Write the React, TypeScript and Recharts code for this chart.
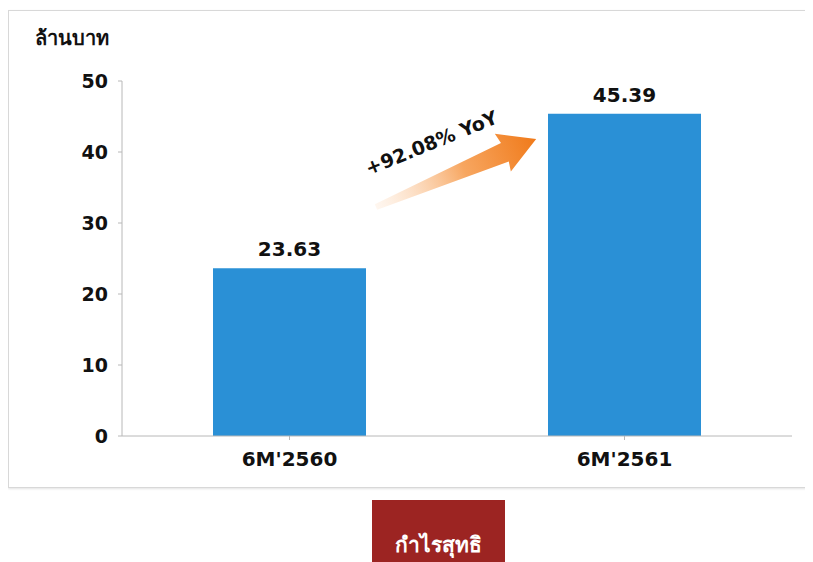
import { BarChart, Bar, XAxis, YAxis, LabelList } from 'recharts';

const periods = ["6M'2560", "6M'2561"];
const netProfit = [23.63, 45.39];
const yTicks = [0, 10, 20, 30, 40, 50];

const data = periods.map((period, i) => ({ period, profit: netProfit[i] }));

const FONT = '"DejaVu Sans", Verdana, sans-serif';

export default function App() {
  return (
    <div style={{ position: 'relative', width: 813, height: 562, margin: '-8px -8px 0 -8px', overflow: 'hidden', background: '#fff', fontFamily: FONT }}>
      <div
        style={{
          position: 'absolute',
          left: 8,
          top: 10,
          width: 820,
          height: 476,
          border: '1px solid #d8d8d8',
          boxShadow: '0 1px 2px #e4e4e4',
        }}
      />
      <div style={{ position: 'absolute', left: 35, top: 22, fontSize: 20, fontWeight: 'bold', color: '#111' }}>ล้านบาท</div>
      <div style={{ position: 'absolute', left: 0, top: 0 }}>
        <BarChart width={813} height={562} data={data} margin={{ top: 81, right: 21, bottom: 96, left: 0 }} barCategoryGap={91}>
          <YAxis
            width={122}
            domain={[0, 50]}
            ticks={yTicks}
            stroke="#b8b8b8"
            tickSize={4}
            tickMargin={10}
            tick={{ fill: '#111', fontSize: 19, fontWeight: 'bold', fontFamily: FONT }}
          />
          <XAxis
            dataKey="period"
            height={30}
            stroke="#b8b8b8"
            tickSize={4}
            tickMargin={12}
            tick={{ fill: '#111', fontSize: 20, fontWeight: 'bold', fontFamily: FONT }}
          />
          <Bar dataKey="profit" fill="#2a90d6" isAnimationActive={false}>
            <LabelList dataKey="profit" position="top" offset={12} fill="#111" fontSize={20} fontWeight="bold" fontFamily={FONT} formatter={(v: number) => v.toFixed(2)} />
          </Bar>
        </BarChart>
      </div>
      <svg style={{ position: 'absolute', left: 0, top: 0 }} width={813} height={562}>
        <defs>
          <linearGradient id="arrowGrad" x1="0" y1="0" x2="1" y2="0">
            <stop offset="0%" stopColor="#fde3cc" stopOpacity={0.3} />
            <stop offset="55%" stopColor="#f7a660" />
            <stop offset="100%" stopColor="#f07a1a" />
          </linearGradient>
        </defs>
        <g transform="translate(376,207) rotate(-23)">
          <polygon points="0,-3 140,-10 138,-21 174,0 138,20 140,10 0,3" fill="url(#arrowGrad)" />
        </g>
        <text
          x={434}
          y={149}
          transform="rotate(-22 434 149)"
          textAnchor="middle"
          fontFamily={FONT}
          fontWeight="bold"
          fontSize={19}
          fill="#111"
        >
          +92.08% YoY
        </text>
      </svg>
      <div
        style={{
          position: 'absolute',
          left: 372,
          top: 500,
          width: 133,
          height: 70,
          background: '#9c2422',
          color: '#fff',
          fontSize: 21,
          fontWeight: 'bold',
          textAlign: 'center',
          paddingTop: 28,
          boxSizing: 'border-box',
        }}
      >
        กำไรสุทธิ
      </div>
    </div>
  );
}
